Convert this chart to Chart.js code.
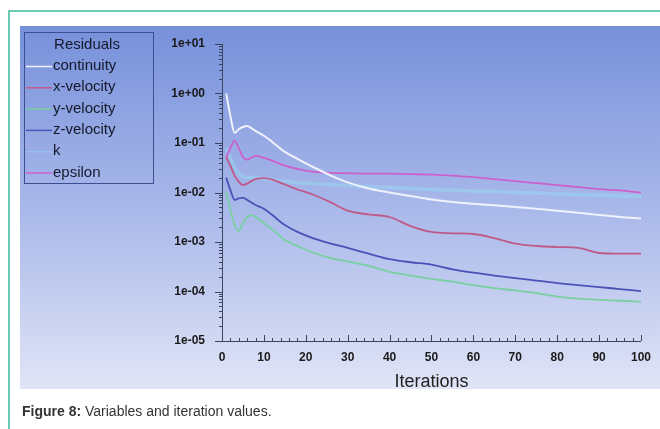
<!DOCTYPE html>
<html>
<head>
<meta charset="utf-8">
<script src="https://cdn.jsdelivr.net/npm/chart.js@4.4.1/dist/chart.umd.min.js"></script>
<style>
  html, body { margin: 0; padding: 0; background: #fff; }
  #wrap { position: relative; width: 660px; height: 429px; overflow: hidden; }
  #resChart { position: absolute; left: 0; top: 0; }
  #caption {
    position: absolute; left: 22px; top: 403px;
    font: 14px "Liberation Sans", Arial, sans-serif; color: #333;
  }
</style>
</head>
<body>
<div id="wrap">
  <canvas id="resChart" width="660" height="429"></canvas>
  <div id="caption"><b>Figure 8:</b> Variables and iteration values.</div>
</div>
<script>
// residual history, sampled at these iterations
const iterations = [1, 2, 3, 4, 5, 6, 7, 8, 10, 12, 15, 18, 22, 26, 30, 35, 40, 45, 50, 55, 60, 65, 70, 75, 80, 85, 90, 95, 100];

const continuity = [1.0, 0.35, 0.16, 0.19, 0.21, 0.22, 0.20, 0.175, 0.14, 0.105, 0.066, 0.048, 0.032, 0.022, 0.016, 0.012, 0.010, 0.0085, 0.0072, 0.0064, 0.0059, 0.0055, 0.0051, 0.0047, 0.0043, 0.0039, 0.0035, 0.0032, 0.0030];
const xVelocity = [0.052, 0.035, 0.022, 0.0166, 0.0141, 0.0151, 0.017, 0.0186, 0.0195, 0.0182, 0.0145, 0.0115, 0.0089, 0.0063, 0.0043, 0.0036, 0.0032, 0.0021, 0.0016, 0.0015, 0.00145, 0.0012, 0.00093, 0.00083, 0.00079, 0.00076, 0.0006, 0.00058, 0.00058];
const yVelocity = [0.01, 0.0045, 0.0022, 0.0017, 0.0024, 0.0032, 0.0035, 0.0032, 0.0024, 0.0018, 0.0011, 0.00083, 0.0006, 0.00047, 0.0004, 0.00033, 0.00025, 0.00021, 0.00018, 0.000158, 0.000135, 0.000117, 0.000105, 0.000093, 0.000079, 0.000072, 0.000068, 0.000065, 0.000062];
const zVelocity = [0.02, 0.0112, 0.0071, 0.0076, 0.0079, 0.0071, 0.0063, 0.0056, 0.0047, 0.0035, 0.0022, 0.0016, 0.00117, 0.00093, 0.00076, 0.00058, 0.00045, 0.00039, 0.00035, 0.00028, 0.00024, 0.00021, 0.000186, 0.000166, 0.000148, 0.000135, 0.000123, 0.000112, 0.000102];
const kRes = [0.079, 0.05, 0.032, 0.024, 0.021, 0.02, 0.02, 0.02, 0.019, 0.018, 0.017, 0.0158, 0.0151, 0.0145, 0.0138, 0.0132, 0.0126, 0.012, 0.0115, 0.0112, 0.0107, 0.0105, 0.01, 0.0098, 0.0093, 0.0091, 0.0089, 0.0085, 0.0083];
const epsilon = [0.05, 0.079, 0.112, 0.079, 0.052, 0.046, 0.05, 0.055, 0.05, 0.044, 0.035, 0.03, 0.026, 0.025, 0.0245, 0.024, 0.024, 0.0235, 0.023, 0.022, 0.0204, 0.0186, 0.017, 0.0155, 0.0141, 0.0129, 0.0117, 0.011, 0.010];

const seriesNames = ['continuity', 'x-velocity', 'y-velocity', 'z-velocity', 'k', 'epsilon'];
const seriesValues = [continuity, xVelocity, yVelocity, zVelocity, kRes, epsilon];
const seriesColors = ['#eef2fb', '#bf5a88', '#78cfa0', '#4a52b8', 'rgba(150,222,245,0.45)', '#cc60cc'];
const seriesWidths = [2, 1.8, 1.8, 1.8, 3.5, 1.8];

const legendTitle = 'Residuals';
const xTitle = 'Iterations';

const FONT = '"Liberation Sans", Arial, sans-serif';

const datasets = seriesNames.map((name, i) => ({
  label: name,
  data: iterations.map((it, j) => ({ x: it, y: seriesValues[i][j] })),
  borderColor: seriesColors[i],
  backgroundColor: seriesColors[i],
  borderWidth: seriesWidths[i],
  pointRadius: 0,
  cubicInterpolationMode: 'monotone',
  order: name === 'k' ? 10 : i
}));

// panel background, frame lines
const backdrop = {
  id: 'backdrop',
  beforeDraw(chart) {
    const c = chart.ctx;
    c.save();
    c.fillStyle = '#ffffff';
    c.fillRect(0, 0, chart.width, chart.height);
    const g = c.createLinearGradient(0, 26, 0, 389);
    g.addColorStop(0, '#7690da');
    g.addColorStop(0.5, '#a9b8ea');
    g.addColorStop(1, '#e0e4f6');
    c.fillStyle = g;
    c.fillRect(20, 26, chart.width - 20, 363);
    c.strokeStyle = '#3cb89a';
    c.lineWidth = 1.5;
    c.beginPath();
    c.moveTo(9, chart.height);
    c.lineTo(9, 11);
    c.lineTo(chart.width, 11);
    c.stroke();
    c.restore();
  }
};

// tick marks on both axes (majors longer)
const axisTicks = {
  id: 'axisTicks',
  afterDatasetsDraw(chart) {
    const c = chart.ctx;
    const xs = chart.scales.x, ys = chart.scales.y;
    const x0 = chart.chartArea.left, y0 = chart.chartArea.bottom;
    c.save();
    c.strokeStyle = '#3c4560';
    c.lineWidth = 1;
    c.beginPath();
    for (let e = -5; e <= 1; e++) {
      const py = Math.round(ys.getPixelForValue(Math.pow(10, e))) + 0.5;
      c.moveTo(x0 - 7, py); c.lineTo(x0, py);
      if (e < 1) {
        for (let m = 2; m <= 9; m++) {
          const my = Math.round(ys.getPixelForValue(m * Math.pow(10, e))) + 0.5;
          c.moveTo(x0 - 3, my); c.lineTo(x0, my);
        }
      }
    }
    for (let v = 0; v <= 100; v += 2) {
      const px = Math.round(xs.getPixelForValue(v)) + 0.5;
      const len = v % 10 === 0 ? 6 : 3;
      c.moveTo(px, y0); c.lineTo(px, y0 - len);
    }
    c.stroke();
    c.restore();
  }
};

// boxed legend in the upper left corner
const residualLegend = {
  id: 'residualLegend',
  afterDraw(chart) {
    const c = chart.ctx;
    c.save();
    c.strokeStyle = '#3d4f92';
    c.lineWidth = 1;
    c.strokeRect(24.5, 32.5, 129, 151);
    c.fillStyle = '#15182a';
    c.font = '15px ' + FONT;
    c.textBaseline = 'middle';
    c.textAlign = 'center';
    c.fillText(legendTitle, 87, 45);
    c.textAlign = 'left';
    chart.data.datasets.forEach((ds, i) => {
      const y = 66 + i * 21.3;
      c.strokeStyle = ds.borderColor;
      c.lineWidth = 1.5;
      c.beginPath();
      c.moveTo(26, y + 0.5);
      c.lineTo(52, y + 0.5);
      c.stroke();
      c.fillText(ds.label, 53, y);
    });
    c.restore();
  }
};

const tickFont = { family: FONT, size: 12, weight: 'bold' };

new Chart(document.getElementById('resChart'), {
  type: 'line',
  data: { datasets },
  options: {
    responsive: false,
    animation: false,
    devicePixelRatio: 1,
    layout: { padding: { left: 172, top: 44, right: 17, bottom: 36 } },
    plugins: { legend: { display: false }, tooltip: { enabled: false } },
    scales: {
      x: {
        type: 'linear',
        min: 0,
        max: 100,
        afterFit(s) { s.height = 52; },
        grid: { display: false, drawTicks: false },
        border: { display: true, color: '#3c4560', width: 1 },
        ticks: { stepSize: 10, padding: 9, color: '#1a1a1a', font: tickFont, maxRotation: 0 },
        title: {
          display: true,
          text: xTitle,
          color: '#222',
          font: { family: FONT, size: 18 },
          padding: { top: 0, bottom: 0 }
        }
      },
      y: {
        type: 'logarithmic',
        min: 1e-5,
        max: 10,
        afterFit(s) { s.width = 50; },
        grid: { display: false, drawTicks: false },
        border: { display: true, color: '#3c4560', width: 1 },
        ticks: {
          autoSkip: false,
          padding: 17,
          color: '#1a1a1a',
          font: tickFont,
          callback(v) {
            const e = Math.log10(v);
            if (Math.abs(e - Math.round(e)) > 1e-6) return '';
            const n = Math.round(e);
            return '1e' + (n < 0 ? '-' : '+') + String(Math.abs(n)).padStart(2, '0');
          }
        }
      }
    }
  },
  plugins: [backdrop, axisTicks, residualLegend]
});
</script>
</body>
</html>
